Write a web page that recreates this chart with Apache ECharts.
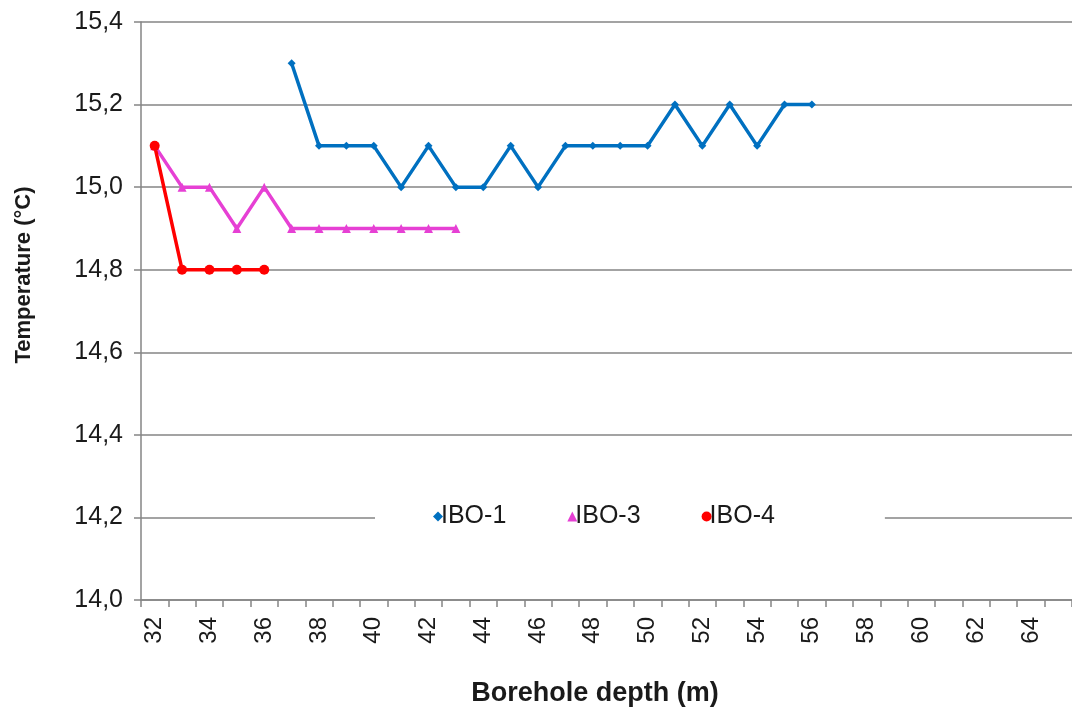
<!DOCTYPE html>
<html>
<head>
<meta charset="utf-8">
<script src="https://cdn.jsdelivr.net/npm/echarts@6/dist/echarts.min.js"></script>
<style>
  html, body { margin: 0; padding: 0; background: #fff; }
  #chart { width: 1072px; height: 714px; }
</style>
</head>
<body>
<div id="chart"></div>
<script>
// depth categories on the x axis (m)
var depths = ['32','33','34','35','36','37','38','39','40','41','42','43','44','45','46','47','48',
              '49','50','51','52','53','54','55','56','57','58','59','60','61','62','63','64','65'];

// IBO-1
var ibo1Depth = ['37','38','39','40','41','42','43','44','45','46','47','48','49','50','51','52','53','54','55','56'];
var ibo1Temp  = [15.3,15.1,15.1,15.1,15.0,15.1,15.0,15.0,15.1,15.0,15.1,15.1,15.1,15.1,15.2,15.1,15.2,15.1,15.2,15.2];

// IBO-3
var ibo3Depth = ['32','33','34','35','36','37','38','39','40','41','42','43'];
var ibo3Temp  = [15.1,15.0,15.0,14.9,15.0,14.9,14.9,14.9,14.9,14.9,14.9,14.9];

// IBO-4
var ibo4Depth = ['32','33','34','35','36'];
var ibo4Temp  = [15.1,14.8,14.8,14.8,14.8];

var font = 'Arial, "Liberation Sans", sans-serif';

function pairs(xs, ys){
	var out = [];
	for (var i=0; i<xs.length; i++){
		out.push([xs[i], ys[i]]);
	}
	return out;
}

var chart = echarts.init(document.getElementById('chart'));

var option = {
	animation: false,
	grid: {left: 141, right: -2, top: 22, bottom: 114, containLabel: false},
	legend: {
		left: 375,
		top: 498,
		backgroundColor: '#fff',
		padding: [6, 110, 6, 58],
		itemGap: 61,
		itemWidth: 10,
		itemHeight: 10,
		textStyle: {fontFamily: font, fontSize: 25, color: '#1a1a1a', padding: [0, 0, 0, -7]},
		data: [
			{name: 'IBO-1', icon: 'diamond'},
			{name: 'IBO-3', icon: 'triangle'},
			{name: 'IBO-4', icon: 'circle'}
		]
	},
	xAxis: {
		type: 'category',
		data: depths,
		boundaryGap: true,
		axisLine: {show: true, lineStyle: {color: '#858585', width: 1.5}},
		axisTick: {show: true, interval: 0, length: 7, lineStyle: {color: '#858585', width: 1.5}},
		axisLabel: {
			interval: 1,
			rotate: 90,
			margin: 17,
			fontFamily: font,
			fontSize: 24,
			color: '#1a1a1a'
		},
		splitLine: {show: false}
	},
	yAxis: {
		type: 'value',
		min: 14.0,
		max: 15.4,
		interval: 0.2,
		axisLine: {show: true, lineStyle: {color: '#858585', width: 1.5}},
		axisTick: {show: true, length: 7, lineStyle: {color: '#858585', width: 1.5}},
		axisLabel: {
			margin: 18,
			fontFamily: font,
			fontSize: 25,
			color: '#1a1a1a',
			formatter: function(v){ return v.toFixed(1).replace('.', ','); }
		},
		splitLine: {show: true, lineStyle: {color: '#858585', width: 1.5}}
	},
	graphic: [
		{
			type: 'text',
			x: 595, y: 694,
			style: {text: 'Borehole depth (m)', font: 'bold 27px ' + font, fill: '#1a1a1a',
				textAlign: 'center', textVerticalAlign: 'middle'}
		},
		{
			type: 'text',
			x: 24, y: 275,
			rotation: Math.PI / 2,
			style: {text: 'Temperature (°C)', font: 'bold 22px ' + font, fill: '#1a1a1a',
				textAlign: 'center', textVerticalAlign: 'middle'}
		}
	],
	series: [
		{
			name: 'IBO-1',
			type: 'line',
			data: pairs(ibo1Depth, ibo1Temp),
			symbol: 'diamond',
			symbolSize: 8,
			color: '#0070C0',
			lineStyle: {width: 3.5}
		},
		{
			name: 'IBO-3',
			type: 'line',
			data: pairs(ibo3Depth, ibo3Temp),
			symbol: 'triangle',
			symbolSize: 9,
			color: '#E640D4',
			lineStyle: {width: 3.5}
		},
		{
			name: 'IBO-4',
			type: 'line',
			data: pairs(ibo4Depth, ibo4Temp),
			symbol: 'circle',
			symbolSize: 10,
			color: '#FF0000',
			lineStyle: {width: 3.5}
		}
	]
};

chart.setOption(option);
</script>
</body>
</html>
